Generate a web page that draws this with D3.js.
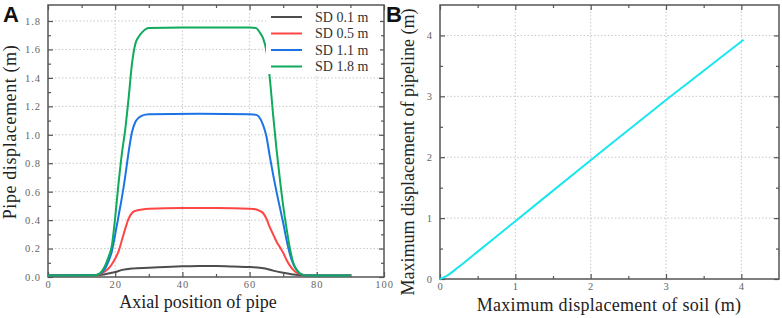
<!DOCTYPE html>
<html lang="en">
<head>
<meta charset="UTF-8">
<title>Pipe displacement</title>
<script src="https://d3js.org/d3.v7.min.js"></script>
<style>
    body { margin: 0; background: #fff; }
    svg { display: block; }
    .tick text { font-family: "Liberation Serif", serif; font-size: 10.5px; fill: #666; letter-spacing: 1px; }
    .axis path { display: none; }
    .axis line { stroke: #555; stroke-width: 1.2; }
    .grid line { stroke: #c8c8c8; stroke-width: 1; stroke-dasharray: 1.5,2; }
    .frame { fill: none; stroke: #555; stroke-width: 1.5; }
    .lab { font-family: "Liberation Serif", serif; font-size: 18px; fill: #222; }
    .panel { font-family: "Liberation Sans", Arial, sans-serif; font-weight: bold; font-size: 22px; fill: #111; }
</style>
</head>
<body>
<svg width="782" height="318"></svg>
<script>
// ---- panel A data: pipe displacement along axial position ----
const seriesNames = ["SD 0.1 m", "SD 0.5 m", "SD 1.1 m", "SD 1.8 m"];
const seriesColors = ["#4d4d4d", "#ff4545", "#1c74e4", "#0faa5c"];

const sd01 = [[0,0.01],[15,0.012],[17,0.02],[19,0.03],[20,0.035],[22,0.05],[25,0.06],[30,0.065],[35,0.07],[40,0.075],[45,0.078],[50,0.077],[55,0.073],[60,0.07],[63,0.065],[65,0.058],[67,0.045],[70,0.03],[73,0.018],[76,0.012],[80,0.01],[90,0.01]];
const sd05 = [[0,0.01],[14,0.012],[15,0.015],[16,0.025],[17,0.04],[18,0.06],[19,0.09],[20,0.13],[21,0.18],[22,0.26],[23,0.34],[24,0.41],[25,0.45],[26,0.465],[28,0.475],[30,0.48],[40,0.485],[50,0.485],[60,0.48],[62,0.475],[63,0.465],[64,0.45],[65,0.41],[66,0.35],[67,0.3],[68,0.25],[69,0.21],[70,0.17],[71,0.12],[72,0.08],[73,0.05],[74,0.03],[75,0.02],[77,0.012],[80,0.01],[90,0.01]];
const sd11 = [[0,0.01],[14,0.012],[15,0.02],[16,0.03],[17,0.06],[18,0.11],[19,0.18],[20,0.3],[21,0.43],[22,0.56],[23,0.71],[24,0.88],[25,1.02],[26,1.09],[27,1.12],[28,1.135],[30,1.145],[45,1.148],[60,1.145],[62,1.14],[63,1.12],[64,1.07],[65,0.99],[66,0.85],[67,0.72],[68,0.6],[69,0.49],[70,0.38],[71,0.26],[72,0.16],[73,0.09],[74,0.05],[75,0.025],[76,0.015],[78,0.01],[90,0.01]];
const sd18 = [[0,0.01],[14,0.012],[15,0.02],[16,0.04],[17,0.08],[18,0.14],[19,0.22],[20,0.42],[21,0.66],[22,0.87],[23,1.04],[24,1.26],[25,1.5],[26,1.64],[27,1.69],[28,1.72],[30,1.75],[40,1.755],[50,1.755],[60,1.755],[62,1.75],[63,1.72],[64,1.68],[65,1.59],[66,1.4],[67,1.14],[68,0.9],[69,0.69],[70,0.5],[71,0.34],[72,0.2],[73,0.1],[74,0.05],[75,0.025],[76,0.015],[78,0.01],[90,0.01]];
const seriesA = [sd01, sd05, sd11, sd18];

const xTicksA = [0, 20, 40, 60, 80, 100];
const yTicksA = [0, 0.2, 0.4, 0.6, 0.8, 1.0, 1.2, 1.4, 1.6, 1.8];

// ---- panel B data: max pipe vs max soil displacement ----
const soilMax = [0, 0.1, 0.25, 0.5, 1, 2, 3, 4.03];
const pipeMax = [0, 0.06, 0.2, 0.45, 0.95, 1.95, 2.94, 3.93];
const ticksB = [0, 1, 2, 3, 4];

const svg = d3.select("svg");

// scales
const xA = d3.scaleLinear().domain([0, 100]).range([48, 384]);
const yA = d3.scaleLinear().domain([0, 1.8]).range([277, 21]);
const topA = 5;
const xB = d3.scaleLinear().domain([0, 4.5]).range([440, 779]);
const yB = d3.scaleLinear().domain([0, 4.5]).range([279, 5]);

function drawPanel(x, y, top, xt, yt, xMinor, yMinor, fmtY, fmtX) {
    const x0 = x.range()[0], x1 = x.range()[1];
    const y0 = y.range()[0], y1 = top;
    const g = svg.append("g");

    // dotted grid
    g.append("g").attr("class", "grid").selectAll("line")
        .data(xt.filter(d => x(d) > x0 + 1 && x(d) < x1 - 1))
        .join("line")
        .attr("x1", d => x(d)).attr("x2", d => x(d))
        .attr("y1", y0).attr("y2", y1);
    g.append("g").attr("class", "grid").selectAll("line")
        .data(yt.filter(d => y(d) < y0 - 1 && y(d) > y1 + 1))
        .join("line")
        .attr("y1", d => y(d)).attr("y2", d => y(d))
        .attr("x1", x0).attr("x2", x1);

    // major + minor ticks, inward on every side
    g.append("g").attr("class", "axis").attr("transform", `translate(0,${y0})`)
        .call(d3.axisBottom(x).tickValues(xt).tickSize(-5).tickPadding(4).tickFormat(fmtX));
    g.append("g").attr("class", "axis").attr("transform", `translate(0,${y0})`)
        .call(d3.axisBottom(x).tickValues(xMinor).tickSize(-3).tickFormat(""));
    g.append("g").attr("class", "axis").attr("transform", `translate(0,${y1})`)
        .call(d3.axisTop(x).tickValues(xt).tickSize(-5).tickFormat(""));
    g.append("g").attr("class", "axis").attr("transform", `translate(0,${y1})`)
        .call(d3.axisTop(x).tickValues(xMinor).tickSize(-3).tickFormat(""));
    g.append("g").attr("class", "axis").attr("transform", `translate(${x0},0)`)
        .call(d3.axisLeft(y).tickValues(yt).tickSize(-5).tickPadding(7).tickFormat(fmtY));
    g.append("g").attr("class", "axis").attr("transform", `translate(${x0},0)`)
        .call(d3.axisLeft(y).tickValues(yMinor).tickSize(-3).tickFormat(""));
    g.append("g").attr("class", "axis").attr("transform", `translate(${x1},0)`)
        .call(d3.axisRight(y).tickValues(yt).tickSize(-5).tickFormat(""));
    g.append("g").attr("class", "axis").attr("transform", `translate(${x1},0)`)
        .call(d3.axisRight(y).tickValues(yMinor).tickSize(-3).tickFormat(""));

    g.append("rect").attr("class", "frame")
        .attr("x", x0).attr("y", y1).attr("width", x1 - x0).attr("height", y0 - y1);
    return g;
}

// ---- panel A ----
const gA = drawPanel(xA, yA, topA, xTicksA, yTicksA,
    d3.range(10, 100, 20), d3.range(0.1, 1.9, 0.2),
    d3.format(".1f"), d3.format("d"));

const lineA = d3.line().x(d => xA(d[0])).y(d => yA(d[1])).curve(d3.curveMonotoneX);
gA.append("g").selectAll("path")
    .data(seriesA)
    .join("path")
    .attr("d", lineA)
    .attr("fill", "none")
    .attr("stroke", (d, i) => seriesColors[i])
    .attr("stroke-width", 2);

// legend
const leg = gA.append("g");
leg.append("rect").attr("x", 266).attr("y", 8).attr("width", 114).attr("height", 66).attr("fill", "#fff");
const li = leg.selectAll("g").data(seriesNames).join("g")
    .attr("transform", (d, i) => `translate(0,${17 + i * 16.5})`);
li.append("line").attr("x1", 271).attr("x2", 302)
    .attr("stroke", (d, i) => seriesColors[i]).attr("stroke-width", 2);
li.append("text").attr("x", 315).attr("dy", "0.35em")
    .attr("font-family", "Liberation Serif, serif").attr("font-size", 14).attr("fill", "#333")
    .text(d => d);

svg.append("text").attr("class", "lab").attr("x", 198).attr("y", 308).attr("text-anchor", "middle")
    .text("Axial position of pipe");
svg.append("text").attr("class", "lab").attr("text-anchor", "middle")
    .attr("letter-spacing", 0.6)
    .attr("transform", "translate(16,132) rotate(-90)")
    .text("Pipe displacement (m)");
svg.append("text").attr("class", "panel").attr("x", 3).attr("y", 22).text("A");

// ---- panel B ----
const gB = drawPanel(xB, yB, 5, ticksB, ticksB,
    d3.range(0.5, 4.5, 1), d3.range(0.5, 4.5, 1),
    d3.format("d"), d3.format("d"));

const lineB = d3.line().x(d => xB(d[0])).y(d => yB(d[1])).curve(d3.curveMonotoneX);
gB.append("path")
    .attr("d", lineB(soilMax.map((s, i) => [s, pipeMax[i]])))
    .attr("fill", "none")
    .attr("stroke", "#19e6ee")
    .attr("stroke-width", 2);

svg.append("text").attr("class", "lab").attr("x", 609).attr("y", 311).attr("text-anchor", "middle")
    .attr("letter-spacing", 0.3)
    .text("Maximum displacement of soil (m)");
svg.append("text").attr("class", "lab").attr("text-anchor", "middle")
    .attr("transform", "translate(414,152) rotate(-90)")
    .text("Maximum displacement of pipeline (m)");
svg.append("text").attr("class", "panel").attr("x", 386).attr("y", 22).text("B");
</script>
</body>
</html>
